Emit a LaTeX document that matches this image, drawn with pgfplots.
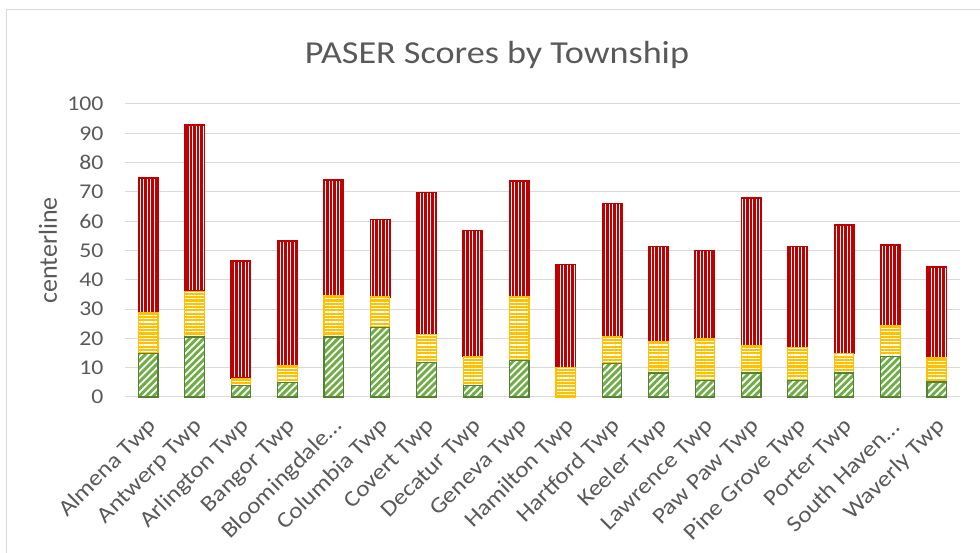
\documentclass[border=0pt]{standalone}
\usepackage{fontspec}
\setmainfont[FakeStretch=1.13]{Carlito}
\newfontfamily\plainfont{Carlito}
\usepackage{pgfplots}
\usepackage{pgfplotstable}
\pgfplotsset{compat=1.18}
\usetikzlibrary{patterns.meta}
\definecolor{txt}{HTML}{595959}
\definecolor{gridc}{HTML}{D9D9D9}
\definecolor{gr}{HTML}{70AD47}
\definecolor{grd}{HTML}{548235}
\definecolor{yl}{HTML}{FFC000}
\definecolor{rd}{HTML}{C00000}

\pgfplotstableread{
x g y r
0 14.8 13.9 46.1
1 20.5 15.6 56.8
2 3.9 2.5 40.0
3 5.0 5.7 42.5
4 20.5 14.2 39.4
5 23.7 10.5 26.4
6 11.8 9.4 48.6
7 3.8 10.0 43.0
8 12.5 21.7 39.5
9 0 10.1 35.1
10 11.4 9.1 45.6
11 8.2 10.6 32.6
12 5.7 14.2 30.1
13 8.2 9.2 50.6
14 5.7 11.2 34.5
15 8.2 6.7 43.8
16 13.7 10.6 27.6
17 5.1 8.2 31.1
}\data

\begin{document}
\begin{tikzpicture}
\path[use as bounding box] (-125pt,-156pt) rectangle (855pt,397pt);
\draw[gridc, line width=1pt] (-118pt,-160pt) -- (-118pt,387pt) -- (860pt,387pt);
\begin{axis}[
  at={(0,0)}, anchor=south west,
  scale only axis, width=835pt, height=293pt,
  ybar stacked, bar width=19.5pt,
  xmin=-0.5, xmax=17.5, ymin=0, ymax=100,
  ytick={0,10,...,100},
  xtick=data,
  xticklabels={Almena Twp,Antwerp Twp,Arlington Twp,Bangor Twp,Bloomingdale\ldots,Columbia Twp,Covert Twp,Decatur Twp,Geneva Twp,Hamilton Twp,Hartford Twp,Keeler Twp,Lawrence Twp,Paw Paw Twp,Pine Grove Twp,Porter Twp,South Haven\ldots,Waverly Twp},
  ymajorgrids, grid style={gridc, line width=1pt},
  axis lines*=left,
  y axis line style={draw=none},
  x axis line style={gridc, line width=1pt, -},
  major tick length=0pt,
  /pgf/number format/assume math mode=true,
  yticklabel style={font=\fontsize{21}{24}\selectfont, text=txt, xshift=-18pt},
  xticklabel style={font=\fontsize{22.5}{25}\selectfont, text=txt, inner sep=0pt, xshift=5pt, yshift=-26pt, rotate=45, anchor=east},
  ylabel={centerline},
  every axis y label/.style={at={(axis description cs:-0.0958,0.5)}, xshift=3pt, rotate=90, anchor=center, font=\plainfont\fontsize{26}{30}\selectfont, text=txt},
  clip=false,
]
\addplot[preaction={fill=gr}, pattern={Lines[angle=45, distance=5pt, line width=1.8pt]}, pattern color=white, draw=grd, line width=1.2pt] table[x=x, y=g] {\data};
\addplot[preaction={fill=yl}, pattern={Lines[angle=0, distance=3.3pt, line width=1.2pt]}, pattern color=white, draw=yl, line width=1.2pt] table[x=x, y=y] {\data};
\addplot[preaction={fill=rd}, pattern={Lines[angle=90, distance=3.5pt, line width=0.9pt]}, pattern color=white, draw=rd, line width=1.5pt] table[x=x, y=r] {\data};
\end{axis}
\node[font=\fontsize{32}{36}\selectfont, text=txt] at (372pt,342pt) {PASER Scores by Township};
\end{tikzpicture}
\end{document}
